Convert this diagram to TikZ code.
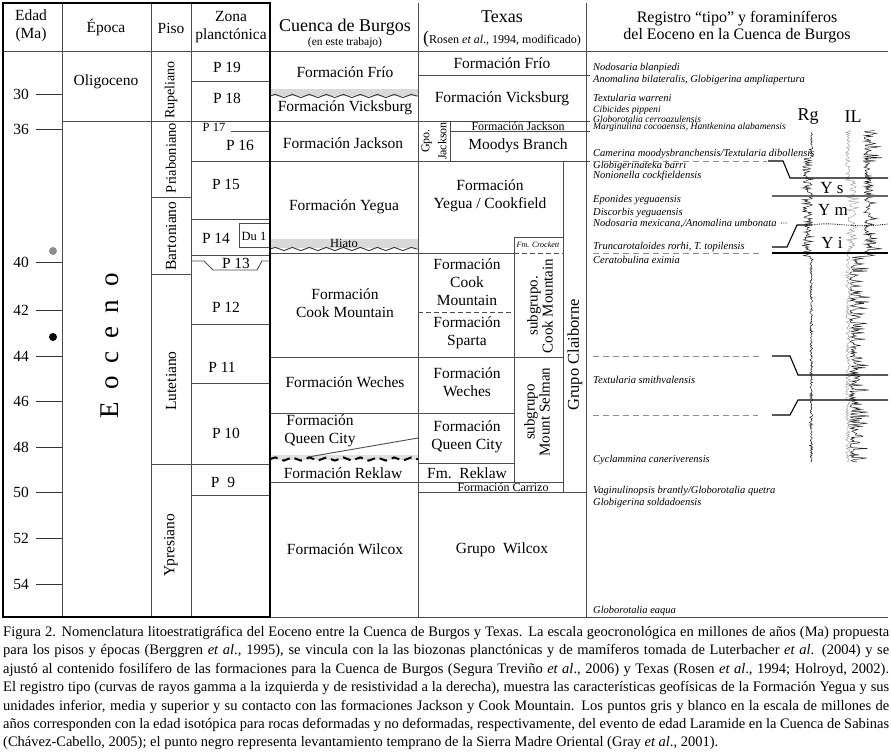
\documentclass[tikz,border=0pt]{standalone}
\usepackage{fontspec}
\setmainfont{Liberation Serif}
\usetikzlibrary{decorations.pathmorphing}

\begin{document}
\begin{tikzpicture}[x=1pt, y=-1pt,
    cell/.style={font=\fontsize{15.5}{18}\selectfont, align=center, inner sep=0pt},
    small/.style={font=\fontsize{12}{13}\selectfont, align=center, inner sep=0pt},
    foram/.style={font=\fontsize{10.5}{11}\selectfont\itshape, anchor=west, inner sep=0pt},
    grid/.style={draw=black!70, line width=0.9pt},
    wave/.style={decorate, decoration={snake, segment length=17pt, amplitude=1.6pt}},
    zonebound/.style={line width=1.1pt},
    dashline/.style={draw=black!45, line width=0.8pt, dash pattern=on 6pt off 4pt}]

\useasboundingbox (0,0) rectangle (891,755);

% hiatus bands
\fill[black!15] (270,89) rectangle (418,96);
\fill[black!15] (270,239) rectangle (418,248);
\fill[black!12] (270,455) rectangle (418,460);

% grid
\draw[grid] (3,51) -- (888,51);
\draw[grid] (62,3) -- (62,617) (151,3) -- (151,617) (191,3) -- (191,617);
\draw[grid] (418,3) -- (418,617) (586,3) -- (586,617) (270,617) -- (888,617);
\draw[grid] (62,121) -- (590,121);
\foreach \yy in {197,274} \draw[grid] (151,\yy) -- (191,\yy);
\draw[grid] (151,464) -- (270,464);
\foreach \yy in {81,161,219,255,324,383,495} \draw[grid] (191,\yy) -- (270,\yy);
\draw[grid] (231,131) -- (270,131);
\draw[grid] (239,223) rectangle (270,247);
\draw[grid] (191,261) -- (204,261) -- (213,270) -- (257,270) -- (262,261) -- (270,261);

% cuenca de burgos
\foreach \yy in {161,253,357,413,482} \draw[grid] (270,\yy) -- (418,\yy);
\draw[black!80, line width=0.9pt, wave] (270,96) -- (418,96);
\draw[black!80, line width=0.9pt, wave] (270,249) -- (418,249);
\draw[line width=2pt, dash pattern=on 8pt off 5pt, wave] (270,459) -- (418,459);
\draw[grid] (308,457) -- (418,438);

% texas
\draw[grid] (418,75) -- (590,75);
\draw[grid] (450,121) -- (450,161) (450,131) -- (590,131);
\draw[grid] (418,161) -- (590,161);
\draw[grid] (563,161) -- (563,492) (514,237) -- (514,482) (514,237) -- (563,237);
\draw[grid] (418,253) -- (514,253);
\draw[grid, dash pattern=on 5pt off 3pt] (514,253) -- (563,253) (418,312) -- (514,312);
\draw[grid] (418,357) -- (563,357) (418,413) -- (514,413) (418,463) -- (514,463);
\draw[grid] (418,482) -- (563,482) (418,492) -- (586,492);

% left frame
\draw[black, line width=2.2pt] (3,3) rectangle (270,617);

% headers
\node[cell] (edad) at (31,26) {Edad\\(Ma)};
\node[cell] (epoca) at (106,27) {Época};
\node[cell] (piso) at (171,28) {Piso};
\node[cell] (zona) at (231,27) {Zona\\planctónica};
\node[cell, font=\fontsize{18}{16}\selectfont] (burgos) at (345,27) {Cuenca de Burgos};
\node[small, font=\fontsize{11.5}{12}\selectfont] (trabajo) at (345,43) {(en este trabajo)};
\node[cell, font=\fontsize{18}{16}\selectfont] (texas) at (502,17) {Texas};
\node[small] (rosen) at (502,39) {{\fontsize{18}{18}\selectfont(}Rosen \textit{et al}., 1994, modificado)};
\node[cell, font=\fontsize{16}{17.5}\selectfont] (registro) at (737,27) {Registro “tipo” y foraminíferos\\del Eoceno en la Cuenca de Burgos};

% age scale
\foreach \age/\yy in {30/94, 36/129, 40/262, 42/310, 44/356, 46/401, 48/447, 50/492, 52/538, 54/584} {
  \draw[black!80, line width=0.9pt] (36,\yy) -- (62,\yy);
  \node[cell] (age\age) at (21,\yy) {\age};
}
\fill[black!45] (53,251) circle (4pt);
\fill[black] (53,337) circle (4pt);

% epocas y pisos
\node[cell] (oligo) at (106,82) {Oligoceno};
\node[cell, font=\fontsize{27}{27}\selectfont, rotate=90] (eoceno) at (110,346)
  {E\hspace{13pt}o\hspace{13pt}c\hspace{13pt}e\hspace{13pt}n\hspace{13pt}o};
\node[cell, font=\fontsize{14}{14}\selectfont, rotate=90] (rupel) at (171,90) {Rupeliano};
\node[cell, font=\fontsize{14.5}{14}\selectfont, rotate=90] (priab) at (171,158) {Priaboniano};
\node[cell, rotate=90] (barto) at (171,236) {Bartoniano};
\node[cell, rotate=90] (lutet) at (171,381) {Lutetiano};
\node[cell, rotate=90] (ypres) at (171,545) {Ypresiano};

% zonas planctonicas
\node[cell] (p19) at (227,67) {P 19};
\node[cell] (p18) at (227,98) {P 18};
\node[small, font=\fontsize{12.5}{13}\selectfont] (p17) at (214,127) {P 17};
\node[cell] (p16) at (240,145) {P 16};
\node[cell] (p15) at (226,184) {P 15};
\node[cell] (p14) at (216,238) {P 14};
\node[small, font=\fontsize{12.5}{13}\selectfont] (du1) at (254,236) {Du 1};
\node[cell] (p13) at (236,263) {P 13};
\node[cell] (p12) at (226,307) {P 12};
\node[cell] (p11) at (222,367) {P 11};
\node[cell] (p10) at (226,433) {P 10};
\node[cell] (p9) at (223,482) {P\ \ 9};

% formaciones, Cuenca de Burgos
\node[cell] (frioB) at (345,72) {Formación Frío};
\node[cell] (vicksB) at (345,108) {Formación Vicksburg};
\node[cell] (jacksB) at (343,143) {Formación Jackson};
\node[cell] (yeguaB) at (344,207) {Formación Yegua};
\node[small, font=\fontsize{12.5}{13}\selectfont] (hiato) at (344,243) {Hiato};
\node[cell] (cookB) at (345,303) {Formación\\Cook Mountain};
\node[cell] (wechesB) at (345,382) {Formación Weches};
\node[cell] (queenB) at (320,431) {Formación\\Queen City};
\node[cell] (reklawB) at (343,473) {Formación Reklaw};
\node[cell] (wilcoxB) at (345,549) {Formación Wilcox};

% formaciones, Texas
\node[cell] (frioT) at (502,63) {Formación Frío};
\node[cell] (vicksT) at (502,99) {Formación Vicksburg};
\node[small, rotate=90, font=\fontsize{12}{17}\selectfont] (gpojack) at (434,141) {Gpo.\\Jackson};
\node[small] (jacksT) at (518,126) {Formación Jackson};
\node[cell] (moodys) at (518,146) {Moodys Branch};
\node[cell] (yeguaT) at (490,196) {Formación\\Yegua / Cookfield};
\node[small, font=\fontsize{8}{9}\selectfont\itshape] (crockett) at (538,245) {Fm. Crockett};
\node[cell] (cookT) at (467,282) {Formación\\Cook\\Mountain};
\node[cell] (sparta) at (467,333) {Formación\\Sparta};
\node[cell] (wechesT) at (467,382) {Formación\\Weches};
\node[cell] (queenT) at (467,437) {Formación\\Queen City};
\node[cell] (reklawT) at (467,473) {Fm.\ \ Reklaw};
\node[small] (carrizo) at (503,487) {Formación Carrizo};
\node[cell] (wilcoxT) at (502,550) {Grupo\ \ Wilcox};
\node[cell, rotate=90, font=\fontsize{15}{15}\selectfont] (subcook) at (540,306) {subgrupo.\\Cook Mountain};
\node[cell, rotate=90, font=\fontsize{15}{15}\selectfont] (selman) at (537,412) {subgrupo\\Mount Selman};
\node[cell, rotate=90, font=\fontsize{16.5}{16}\selectfont] (claib) at (575,355) {Grupo Claiborne};

% foraminiferos
\foreach \yy/\sp [count=\i] in {68/{Nodosaria blanpiedi},
    80/{Anomalina bilateralis, Globigerina ampliapertura},
    98/{Textularia warreni},
    154/{Camerina moodysbranchensis/Textularia dibollensis},
    166/{Globigerinateka barri}, 175.5/{Nonionella cockfieldensis},
    200/{Eponides yeguaensis}, 213/{Discorbis yeguaensis},
    223.5/{Nodosaria mexicana,/Anomalina umbonata},
    247/{Truncarotaloides rorhi, T. topilensis},
    260/{Ceratobulina eximia}, 380/{Textularia smithvalensis},
    460/{Cyclammina caneriverensis},
    491/{Vaginulinopsis brantly/Globorotalia quetra},
    503/{Globigerina soldadoensis}, 611/{Globorotalia eaqua}}
  \node[foram] (sp\i) at (593,\yy) {\sp};
% three tightly set names near the Jackson
\foreach \yy/\sp [count=\i] in {110.5/{Cibicides pippeni},
    119/{Globorotalia cerroazulensis},
    127.5/{Marginulina cocoaensis, Hantkenina alabamensis}}
  \node[foram, font=\fontsize{9.6}{10}\selectfont\itshape] (jk\i) at (593,\yy) {\sp};

% registro tipo
\pgfmathsetseed{11}
\draw[black!85, line width=0.5pt] plot[domain=132:462, samples=420, variable=\t]
  ({812 - (1.5 + 8*(\t>158)*(\t<256))*rnd + 1.2*rand}, {\t});
\draw[black!40, line width=0.4pt] plot[domain=130:462, samples=300, variable=\t]
  ({848 + 2.5*rand + 9*(\t>180)*(\t<250)*rnd}, {\t});
\draw[black!85, line width=0.5pt] plot[domain=130:462, samples=420, variable=\t]
  ({850 + 14*(\t<256) + (22 - 2*(\t<256))*rnd*rnd}, {\t});
\node[cell, font=\fontsize{18}{18}\selectfont] (rg) at (808,117) {Rg};
\node[cell, font=\fontsize{18}{18}\selectfont] (il) at (853,117) {IL};

\foreach \yy/\xe in {161/767, 253/762, 356/760, 415/758} \draw[dashline] (593,\yy) -- (\xe,\yy);
\draw[zonebound] (768,161) -- (783,161) -- (790,178) -- (888,178);
\draw[zonebound, black!60] (772,196) -- (888,196);
\draw[zonebound] (772,247) -- (787,247) -- (797,225) -- (812,225);
\draw[densely dotted, line width=0.8pt] (781,223) -- (788,223) (812,225) .. controls (835,221) and (850,229) .. (888,224);
\draw[zonebound] (772,253) -- (888,253);
\draw[zonebound] (772,356) -- (790,356) -- (798,375) -- (888,375);
\draw[zonebound] (772,415) -- (790,415) -- (798,400) -- (888,400);
\node[cell, font=\fontsize{17}{17}\selectfont] (ys) at (832,188) {Y s};
\node[cell, font=\fontsize{17}{17}\selectfont] (ym) at (833,210) {Y m};
\node[cell, font=\fontsize{17}{17}\selectfont] (yi) at (832,243) {Y i};

% pie de figura
\node[anchor=north west, text width=886pt, inner sep=0pt, align=justify,
      font=\fontsize{14.5}{18.4}\selectfont] (caption) at (3,626) {Figura 2. Nomenclatura litoestratigráfica del Eoceno entre la Cuenca de Burgos y Texas. La escala geocronológica en millones de años (Ma) propuesta\linebreak
para los pisos y épocas (Berggren \textit{et al}., 1995), se vincula con la las biozonas planctónicas y de mamíferos tomada de Luterbacher \textit{et al}. (2004) y se\linebreak
ajustó al contenido fosilífero de las formaciones para la Cuenca de Burgos (Segura Treviño \textit{et al}., 2006) y Texas (Rosen \textit{et al}., 1994; Holroyd, 2002).\linebreak
El registro tipo (curvas de rayos gamma a la izquierda y de resistividad a la derecha), muestra las características geofísicas de la Formación Yegua y sus\linebreak
unidades inferior, media y superior y su contacto con las formaciones Jackson y Cook Mountain. Los puntos gris y blanco en la escala de millones de\linebreak
años corresponden con la edad isotópica para rocas deformadas y no deformadas, respectivamente, del evento de edad Laramide en la Cuenca de Sabinas\linebreak
(Chávez-Cabello, 2005); el punto negro representa levantamiento temprano de la Sierra Madre Oriental (Gray \textit{et al}., 2001).};
\end{tikzpicture}
\end{document}
